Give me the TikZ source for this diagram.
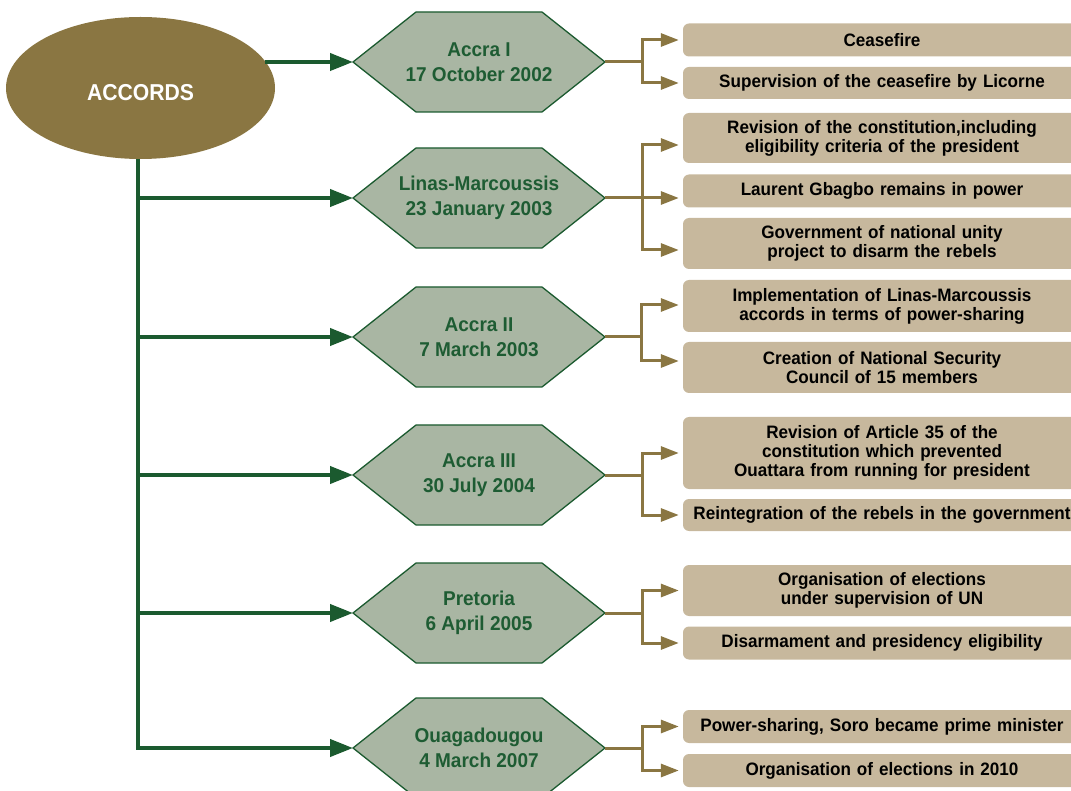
\documentclass[tikz,border=0pt]{standalone}
\usepackage{fontspec}
\setmainfont{Liberation Sans}
\newfontfamily\boxfont{Liberation Sans}[FakeStretch=0.95]
\newfontfamily\hexfont{Liberation Sans}[FakeStretch=0.95]
\newfontfamily\accfont{Liberation Sans}[FakeStretch=0.92]
\usetikzlibrary{shapes.geometric,arrows.meta,backgrounds}
\definecolor{acolive}{RGB}{138,118,66}
\definecolor{dgreen}{RGB}{27,90,47}
\definecolor{hexgreen}{RGB}{30,92,51}
\definecolor{hexfill}{RGB}{169,182,163}
\definecolor{boxfill}{RGB}{199,184,157}
\begin{document}
\begin{tikzpicture}[x=1pt,y=-1pt,
  accord/.style={ellipse,fill=acolive,minimum width=269,minimum height=142,inner sep=0,
    text height=24.6pt,text depth=0pt,
    text=white,font=\accfont\bfseries\fontsize{23}{23}\selectfont},
  hex/.style={rectangle,minimum width=252,minimum height=100,inner sep=0,outer sep=0,
    align=center,text=hexgreen,font=\hexfont\bfseries\fontsize{20}{24.5}\selectfont},
  hexshape/.style={fill=hexfill,draw=dgreen,line width=1.3pt,line join=miter},
  bx/.style={rectangle,rounded corners=6pt,fill=boxfill,minimum width=398,text width=390,
    inner sep=0,align=center,font=\boxfont\bfseries\fontsize{18}{19}\selectfont},
  tanline/.style={draw=acolive,line width=3pt},
  tanarrow/.style={tanline,-{Triangle[length=18pt,width=13pt]},shorten >=4pt},
  garrow/.style={draw=dgreen,line width=4pt,-{Triangle[length=23pt,width=17pt]}}
]
\useasboundingbox (0,0) rectangle (1071,791);
\clip (0,0) rectangle (1071,791);

% central ellipse
\node[accord] (acc) at (140.5,88) {ACCORDS};

% hexagon nodes
\node[hex] (h1) at (479,62) {Accra I\\17 October 2002};
\node[hex] (h2) at (479,198) {Linas-Marcoussis\\23 January 2003};
\node[hex] (h3) at (479,337) {Accra II\\7 March 2003};
\node[hex] (h4) at (479,475) {Accra III\\30 July 2004};
\node[hex] (h5) at (479,613) {Pretoria\\6 April 2005};
\node[hex] (h6) at (479,748) {Ouagadougou\\4 March 2007};

\begin{scope}[on background layer]
\foreach \h in {h1,h2,h3,h4,h5,h6}
  \draw[hexshape] (\h.west) -- ([xshift=63pt]\h.north west) -- ([xshift=-63pt]\h.north east)
    -- (\h.east) -- ([xshift=-63pt]\h.south east) -- ([xshift=63pt]\h.south west) -- cycle;
\end{scope}

% result boxes
\node[bx,minimum height=33] (b11) at (882,40) {Ceasefire};
\node[bx,minimum height=32] (b12) at (882,83) {Supervision of the ceasefire by Licorne};
\node[bx,minimum height=50] (b21) at (882,138) {Revision of the constitution,including\\eligibility criteria of the president};
\node[bx,minimum height=33] (b22) at (882,191) {Laurent Gbagbo remains in power};
\node[bx,minimum height=51] (b23) at (882,243.5) {Government of national unity\\project to disarm the rebels};
\node[bx,minimum height=52] (b31) at (882,306) {Implementation of Linas-Marcoussis\\accords in terms of power-sharing};
\node[bx,minimum height=51] (b32) at (882,367.5) {Creation of National Security\\Council of 15 members};
\node[bx,minimum height=72] (b41) at (882,453) {Revision of Article 35 of the\\constitution which prevented\\Ouattara from running for president};
\node[bx,minimum height=32] (b42) at (882,515) {Reintegration of the rebels in the government};
\node[bx,minimum height=51] (b51) at (882,590.5) {Organisation of elections\\under supervision of UN};
\node[bx,minimum height=33] (b52) at (882,643) {Disarmament and presidency eligibility};
\node[bx,minimum height=33] (b61) at (882,726.5) {Power-sharing, Soro became prime minister};
\node[bx,minimum height=33] (b62) at (882,770.5) {Organisation of elections in 2010};

% green connectors
\coordinate (trunk) at (138,0);
\draw[garrow] (h1.west -| acc.12) -- (h1.west);
\draw[garrow] (trunk |- acc.south) |- (h6.west);
\foreach \h in {h2,h3,h4,h5}
  \draw[garrow] (trunk |- \h.west) -- (\h.west);

% tan connectors
\draw[tanline] (h1.east) -- ++(37,0) coordinate (j1);
\draw[tanarrow] (j1) |- (b11.west);
\draw[tanarrow] (j1) |- (b12.west);

\draw[tanline] (h2.east) -- ++(37,0) coordinate (j2);
\draw[tanarrow] (j2) |- ([yshift=-7pt]b21.west);
\draw[tanarrow] (j2) |- ([yshift=-7pt]b22.west);
\draw[tanarrow] (j2) |- ([yshift=-6.5pt]b23.west);

\draw[tanline] (h3.east) -- ++(36,0) coordinate (j3);
\draw[tanarrow] (j3) |- ([yshift=1pt]b31.west);
\draw[tanarrow] (j3) |- ([yshift=6.5pt]b32.west);

\draw[tanline] (h4.east) -- ++(37,0) coordinate (j4);
\draw[tanarrow] (j4) |- (b41.west);
\draw[tanarrow] (j4) |- (b42.west);

\draw[tanline] (h5.east) -- ++(37,0) coordinate (j5);
\draw[tanarrow] (j5) |- (b51.west);
\draw[tanarrow] (j5) |- (b52.west);

\draw[tanline] (h6.east) -- ++(37,0) coordinate (j6);
\draw[tanarrow] (j6) |- (b61.west);
\draw[tanarrow] (j6) |- (b62.west);
\end{tikzpicture}
\end{document}
